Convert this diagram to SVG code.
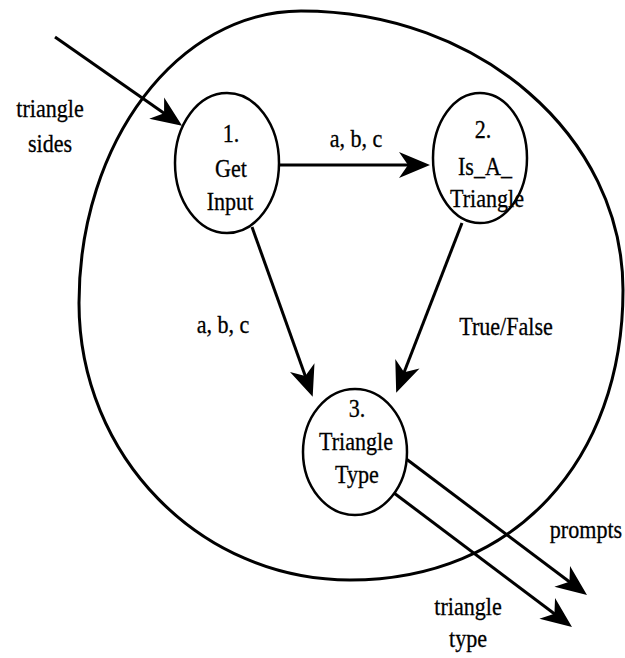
<svg xmlns="http://www.w3.org/2000/svg" width="625" height="658" viewBox="0 0 625 658">
<style>
text{font-family:"Liberation Serif","Times New Roman",serif;font-size:26px;fill:#000;stroke:#000;stroke-width:0.3;text-anchor:middle}
.node{fill:#fff;stroke:#000;stroke-width:2.5}
.edge{fill:none;stroke:#000;stroke-width:3}
.boundary{fill:none;stroke:#000;stroke-width:3}
</style>
<defs>
<marker id="arr" markerUnits="userSpaceOnUse" viewBox="-34 -15 36 30" refX="-5" refY="0" markerWidth="36" markerHeight="30" orient="auto">
<path d="M0,0 L-31,-13 L-22,0 L-31,13 Z" fill="#000"/>
</marker>
</defs>
<path class="boundary" d="M301,11 C479,11 623,136 623,290 C623,460 515,580 350,580 C200,580 79,456 79,303 C79,142 178,11 301,11 Z"/>
<g id="connectors">
<line class="edge" x1="55" y1="37" x2="178" y2="123" marker-end="url(#arr)"/>
<line class="edge" x1="278" y1="165" x2="425" y2="165" marker-end="url(#arr)"/>
<line class="edge" x1="252" y1="227" x2="311" y2="392" marker-end="url(#arr)"/>
<line class="edge" x1="462" y1="223" x2="398" y2="388" marker-end="url(#arr)"/>
<line class="edge" x1="405" y1="458" x2="583" y2="592" marker-end="url(#arr)"/>
<line class="edge" x1="390" y1="490" x2="568" y2="624" marker-end="url(#arr)"/>
</g>
<g id="node1">
<ellipse class="node" cx="227" cy="163" rx="52" ry="70"/>
<text transform="translate(231,142) scale(0.85,1)">1.</text>
<text transform="translate(231,177) scale(0.85,1)">Get</text>
<text transform="translate(230,210) scale(0.85,1)">Input</text>
</g>
<g id="node2">
<ellipse class="node" cx="480" cy="158" rx="47" ry="65"/>
<text transform="translate(483,138) scale(0.85,1)">2.</text>
<text transform="translate(485,175) scale(0.85,1)">Is_A_</text>
<text transform="translate(487,207) scale(0.85,1)">Triangle</text>
</g>
<g id="node3">
<ellipse class="node" cx="355" cy="452" rx="52" ry="63"/>
<text transform="translate(357,417) scale(0.85,1)">3.</text>
<text transform="translate(356,450) scale(0.85,1)">Triangle</text>
<text transform="translate(357,483) scale(0.85,1)">Type</text>
</g>
<g id="labels">
<text transform="translate(50,117) scale(0.85,1)">triangle</text>
<text transform="translate(50,152) scale(0.85,1)">sides</text>
<text transform="translate(356,147) scale(0.85,1)">a, b, c</text>
<text transform="translate(223,333) scale(0.85,1)">a, b, c</text>
<text transform="translate(506,335) scale(0.85,1)">True/False</text>
<text transform="translate(586,538) scale(0.85,1)">prompts</text>
<text transform="translate(468,615) scale(0.85,1)">triangle</text>
<text transform="translate(468,647) scale(0.85,1)">type</text>
</g>
</svg>
